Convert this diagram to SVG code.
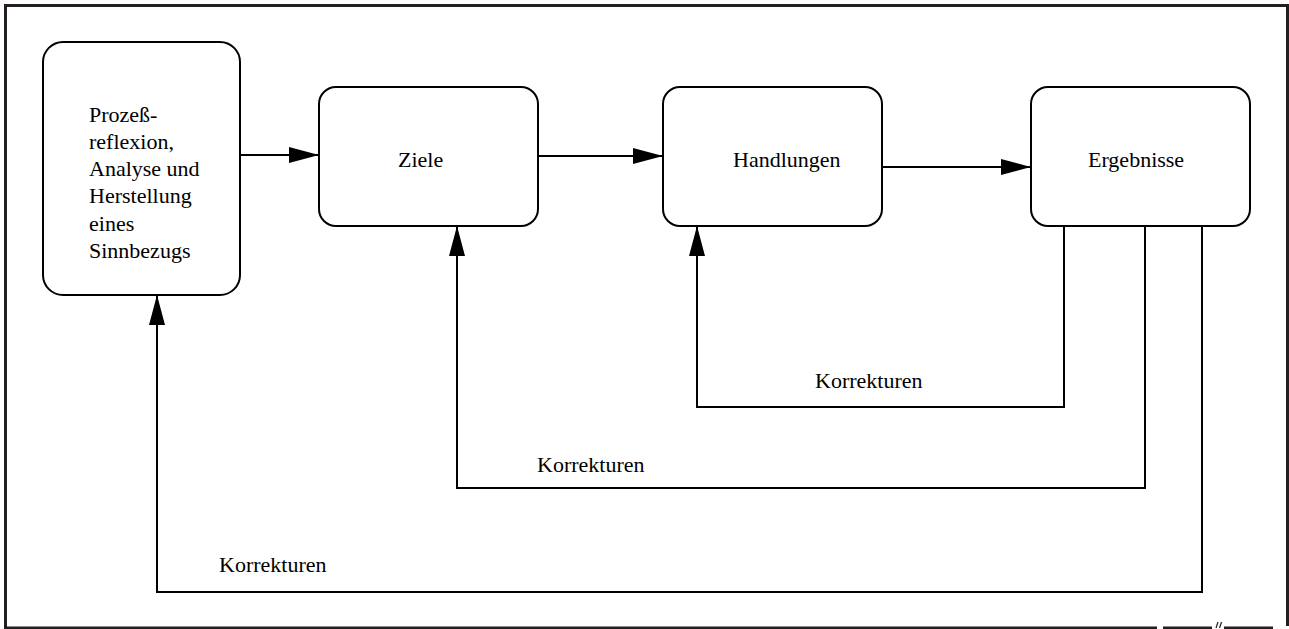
<svg xmlns="http://www.w3.org/2000/svg" width="1289" height="629" viewBox="0 0 1289 629">
  <defs>
    <style>
      .frame { fill: none; stroke: #231f20; stroke-width: 3; }
      .box { fill: #ffffff; stroke: #000000; stroke-width: 2; }
      .wire { fill: none; stroke: #000000; stroke-width: 2; }
      .label { font-family: "Liberation Serif", "Times New Roman", serif; font-size: 22px; fill: #000000; }
    </style>
    <marker id="arrow" viewBox="0 0 30 16" refX="30" refY="8" markerWidth="30" markerHeight="16" markerUnits="userSpaceOnUse" orient="auto">
      <path d="M0,0 L30,8 L0,16 Z" fill="#000000"/>
    </marker>
  </defs>

  <rect width="1289" height="629" fill="#ffffff"/>

  <!-- page frame -->
  <g id="frame">
    <path class="frame" d="M5.5,629 V5.5 H1287.5 V626"/>
    <path class="frame" stroke-width="2" d="M5,628 H1157 M1163,628 H1212 M1224,628 H1273"/>
    <path fill="none" stroke="#231f20" stroke-width="1.2" d="M1216,628 L1218,622 M1219.5,628 L1221.5,622"/>
  </g>

  <!-- connectors -->
  <g id="connectors">
    <path class="wire" marker-end="url(#arrow)" d="M240,155 H319"/>
    <path class="wire" marker-end="url(#arrow)" d="M538,156 H663"/>
    <path class="wire" marker-end="url(#arrow)" d="M882,167 H1031"/>
    <path class="wire" marker-end="url(#arrow)" d="M1064,226 V407 H697 V226"/>
    <path class="wire" marker-end="url(#arrow)" d="M1145,226 V488 H457 V226"/>
    <path class="wire" marker-end="url(#arrow)" d="M1202,226 V592 H157 V295"/>
    <text class="label" x="815" y="388">Korrekturen</text>
    <text class="label" x="537" y="472">Korrekturen</text>
    <text class="label" x="219" y="572">Korrekturen</text>
  </g>

  <g id="node-sinnbezug">
    <rect class="box" x="43" y="42" width="197" height="253" rx="20" ry="20"/>
    <text class="label">
      <tspan x="89" y="122">Prozeß-</tspan>
      <tspan x="89" y="149">reflexion,</tspan>
      <tspan x="89" y="176">Analyse und</tspan>
      <tspan x="89" y="203">Herstellung</tspan>
      <tspan x="89" y="231">eines</tspan>
      <tspan x="89" y="258">Sinnbezugs</tspan>
    </text>
  </g>

  <g id="node-ziele">
    <rect class="box" x="319" y="87" width="219" height="139" rx="17" ry="17"/>
    <text class="label" x="398" y="167">Ziele</text>
  </g>

  <g id="node-handlungen">
    <rect class="box" x="663" y="87" width="219" height="139" rx="17" ry="17"/>
    <text class="label" x="733" y="167">Handlungen</text>
  </g>

  <g id="node-ergebnisse">
    <rect class="box" x="1031" y="87" width="219" height="139" rx="17" ry="17"/>
    <text class="label" x="1088" y="167">Ergebnisse</text>
  </g>
</svg>
